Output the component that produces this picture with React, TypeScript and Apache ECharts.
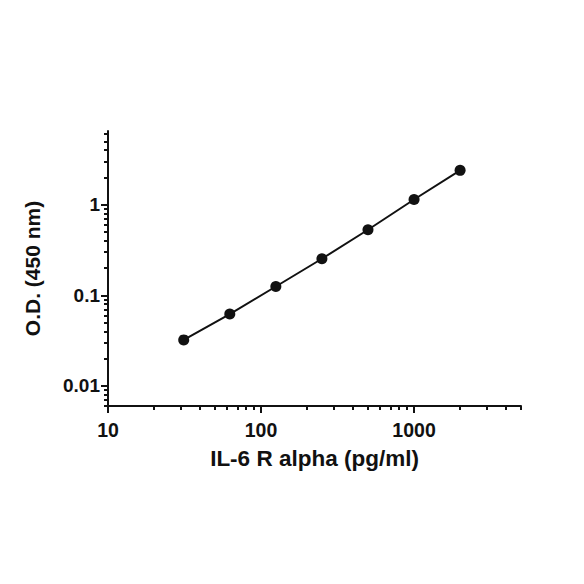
import React, { useEffect, useRef } from "react";
import * as echarts from "echarts";

const concentrations = [31.25, 62.5, 125, 250, 500, 1000, 2000];
const odValues = [0.0322, 0.062, 0.125, 0.253, 0.529, 1.14, 2.39];
const xMajorTicks = [10, 100, 1000];
const xMinorTicks = [20, 30, 40, 50, 60, 70, 80, 90, 200, 300, 400, 500, 600, 700, 800, 900, 2000, 3000, 4000, 5000];
const yMajorTicks = [0.01, 0.1, 1];
const yMinorTicks = [0.006, 0.007, 0.008, 0.009, 0.02, 0.03, 0.04, 0.05, 0.06, 0.07, 0.08, 0.09, 0.2, 0.3, 0.4, 0.5, 0.6, 0.7, 0.8, 0.9, 2, 3, 4, 5, 6];

const FONT = "'Liberation Sans', Arial, sans-serif";
const INK = "#111111";

export default function App() {
  const ref = useRef<HTMLDivElement>(null);
  useEffect(() => {
    if (!ref.current) return;
    const chart = echarts.init(ref.current, null, { renderer: "svg" });
    const xBase = { type: "log", logBase: 10, min: 10, max: 5000, position: "bottom", splitLine: { show: false }, minorTick: { show: false } };
    const yBase = { type: "log", logBase: 10, min: 0.006, max: 6.5, position: "left", splitLine: { show: false }, minorTick: { show: false } };
    chart.setOption({
      animation: false,
      backgroundColor: "#ffffff",
      grid: { left: 100, right: 55, top: 123, bottom: 170, containLabel: false },
      xAxis: [
        {
          ...xBase,
          name: "IL-6 R alpha (pg/ml)",
          nameLocation: "middle",
          nameGap: 41,
          nameTextStyle: { fontFamily: FONT, fontWeight: "bold", fontSize: 22.5, color: INK },
          axisLine: { show: true, lineStyle: { color: INK, width: 2 } },
          axisTick: { show: true, length: 7, customValues: xMajorTicks, lineStyle: { color: INK, width: 2 } },
          axisLabel: { show: true, customValues: xMajorTicks, margin: 14, fontFamily: FONT, fontWeight: "bold", fontSize: 19.5, color: INK, formatter: (v: number) => String(Math.round(v)) },
        },
        {
          ...xBase,
          axisLine: { show: false },
          axisTick: { show: true, length: 4, customValues: xMinorTicks, lineStyle: { color: INK, width: 2 } },
          axisLabel: { show: false },
        },
      ],
      yAxis: [
        {
          ...yBase,
          name: "O.D. (450 nm)",
          nameLocation: "middle",
          nameGap: 65,
          nameTextStyle: { fontFamily: FONT, fontWeight: "bold", fontSize: 21, color: INK },
          axisLine: { show: true, lineStyle: { color: INK, width: 2 } },
          axisTick: { show: true, length: 7, customValues: yMajorTicks, lineStyle: { color: INK, width: 2 } },
          axisLabel: { show: true, customValues: yMajorTicks, margin: 8, fontFamily: FONT, fontWeight: "bold", fontSize: 19, color: INK, formatter: (v: number) => (v >= 1 ? String(Math.round(v)) : String(Number(v.toPrecision(1)))) },
        },
        {
          ...yBase,
          axisLine: { show: false },
          axisTick: { show: true, length: 4, customValues: yMinorTicks, lineStyle: { color: INK, width: 2 } },
          axisLabel: { show: false },
        },
      ],
      series: [
        {
          type: "line",
          xAxisIndex: 0,
          yAxisIndex: 0,
          data: concentrations.map((c, i) => [c, odValues[i]]),
          symbol: "circle",
          symbolSize: 11,
          itemStyle: { color: INK },
          lineStyle: { color: INK, width: 2 },
        },
      ],
    });
    return () => chart.dispose();
  }, []);
  return <div ref={ref} style={{ width: 568, height: 568 }} />;
}
